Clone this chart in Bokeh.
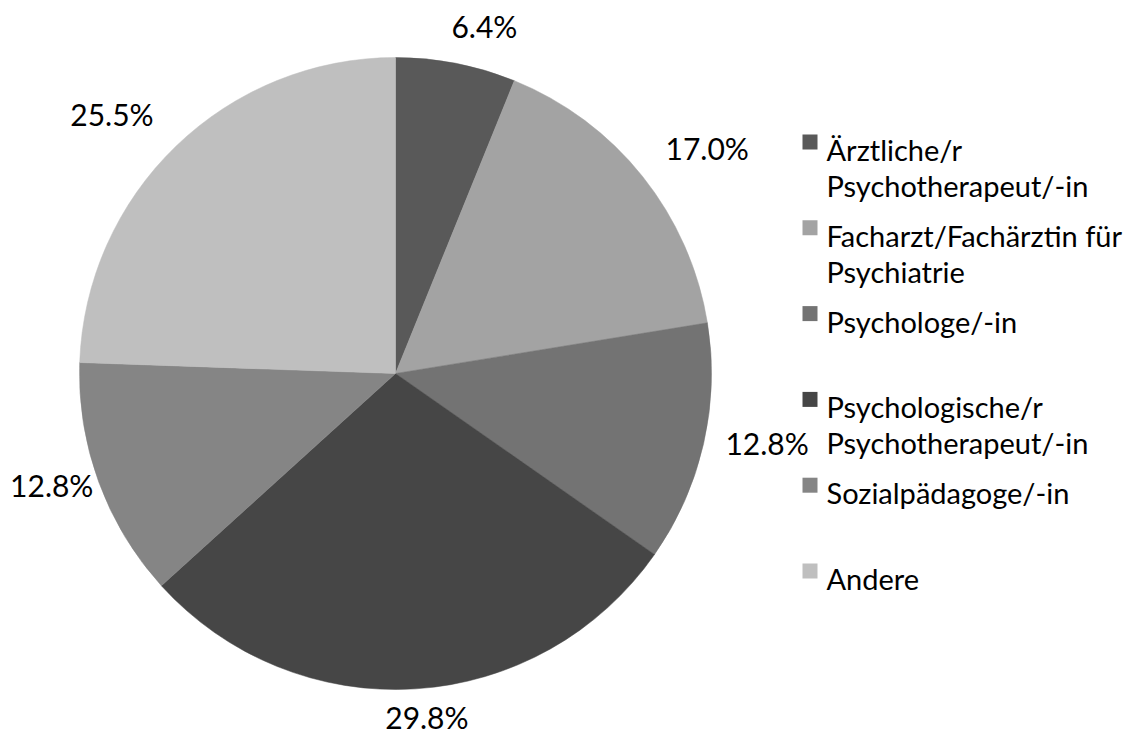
import math
from bokeh.plotting import figure
from bokeh.models import Range1d
from bokeh.core.properties import value
from bokeh.embed import file_html
from bokeh.resources import INLINE

# ---- data ----
categories = [
    "Ärztliche/r\nPsychotherapeut/-in",
    "Facharzt/Fachärztin für\nPsychiatrie",
    "Psychologe/-in",
    "Psychologische/r\nPsychotherapeut/-in",
    "Sozialpädagoge/-in",
    "Andere",
]
percent = [6.4, 17.0, 12.8, 29.8, 12.8, 25.5]
colors = ["#595959", "#a3a3a3", "#737373", "#464646", "#858585", "#bfbfbf"]

# ---- layout (screen pixels, y measured downward then flipped) ----
W, H = 1124, 735
SH = 735

def sy(y):
    return SH - y

cx, cy, R = 395, sy(373), 316
FONT = "Lato"

p = figure(width=W, height=H, output_backend="svg", toolbar_location=None,
           x_range=Range1d(0, W), y_range=Range1d(SH - H, SH),
           min_border=0, outline_line_color=None)
p.axis.visible = False
p.grid.visible = False

total = sum(percent)
cum = 0.0
starts, ends, mids = [], [], []
for v in percent:
    a0 = cum / total
    cum += v
    a1 = cum / total
    starts.append(math.pi / 2 - 2 * math.pi * a1)
    ends.append(math.pi / 2 - 2 * math.pi * a0)
    mids.append(2 * math.pi * (a0 + a1) / 2)

p.wedge(x=[cx] * len(percent), y=[cy] * len(percent), radius=R,
        start_angle=starts, end_angle=ends, fill_color=colors,
        line_color=colors, line_width=0.5)

# data labels outside the pie (kept inside the chart area)
LFS = 30
lx, ly, lt = [], [], []
for v, th in zip(percent, mids):
    s, c = math.sin(th), math.cos(th)
    txt = f"{v:.1f}%"
    hw = 0.275 * LFS * len(txt)
    hh = 13
    g = 20
    fx = max(-1.0, min(1.0, 3 * s)) * (1 + 0.3 * abs(c))
    fy = math.copysign(min(1.0, max(0.0, abs(c) - 0.3) / 0.4), c)
    x = cx + s * (R + g) + hw * fx
    y = cy + c * (R + g) + hh * fy + 5
    x = max(x, hw + 10)
    y = max(y, sy(718))
    lx.append(x)
    ly.append(y)
    lt.append(txt)
p.text(x=lx, y=ly, text=lt, text_font=value(FONT), text_font_size=f"{LFS}px",
       text_align="center", text_baseline="middle", text_color="#000000")

# legend
LEG_X = 802
SQ = 15
first_base = 149
step = 85.8
line_h = 36
for i, (cat, col) in enumerate(zip(categories, colors)):
    base = first_base + i * step
    p.rect(x=[LEG_X + SQ / 2], y=[sy(base - SQ / 2)], width=SQ, height=SQ,
           fill_color=col, line_color=None)
    for j, line in enumerate(cat.split("\n")):
        p.text(x=[LEG_X + 24], y=[sy(base + j * line_h)], text=[line],
               text_font=value(FONT), text_font_size="29px",
               text_align="left", text_baseline="alphabetic", text_color="#000000")

open("out.html", "w").write(file_html(p, INLINE))
